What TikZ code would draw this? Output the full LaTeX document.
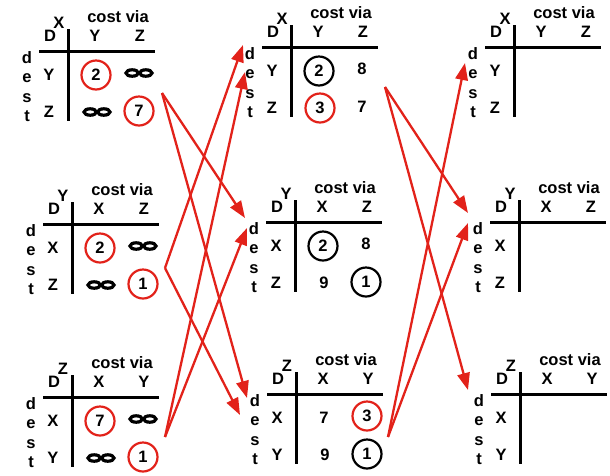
\documentclass[tikz,border=0pt]{standalone}
\usepackage{fontspec}
\setmainfont{Liberation Sans}
\usetikzlibrary{arrows.meta}
\definecolor{flowred}{RGB}{226,34,26}
\tikzset{
  lbl/.style={font=\fontsize{16.5}{18}\selectfont\bfseries, inner sep=0pt},
  rule/.style={line width=3pt},
  ring/.style={draw=#1, line width=2.2pt, circle, minimum size=29pt, inner sep=0pt,
    font=\fontsize{16.5}{18}\selectfont\bfseries},
  flow/.style={draw=flowred, line width=2.3pt, -{Triangle[length=17pt,width=12.5pt]}},
  pics/infty/.style={code={
    \draw[line width=3.2pt] (-6.8,0) ellipse[x radius=6.2pt, y radius=3.2pt]
                            (6.8,0) ellipse[x radius=6.2pt, y radius=3.2pt];}}
}
% distance table: #1 name, #2/#3 crossing of the rules, #4 owner,
% #5/#6 column heads, #7/#8 row heads
\newcommand\dvtable[8]{%
  \begin{scope}[shift={(#2,#3)}]
    \draw[rule] (-29,0) -- (87,0);
    \draw[rule] (0,-22) -- (0,70);
    \node[lbl] (#1-cv)  at (50,-34) {cost via};
    \node[lbl] (#1-d)   at (-18,-15) {D};
    \node[lbl] (#1-own) at (-9,-28) {#4};
    \node[lbl] (#1-c1)  at (27,-15) {#5};
    \node[lbl] (#1-c2)  at (72,-15) {#6};
    \node[lbl] (#1-r1)  at (-19,24) {#7};
    \node[lbl] (#1-r2)  at (-19,61) {#8};
    \node[lbl,anchor=base] (#1-l1) at (-41,12) {d};
    \node[lbl,anchor=base] (#1-l2) at (-41,31) {e};
    \node[lbl,anchor=base] (#1-l3) at (-41,51) {s};
    \node[lbl,anchor=base] (#1-l4) at (-41,70) {t};
    \coordinate (#1-11) at (28,24);
    \coordinate (#1-12) at (71,22);
    \coordinate (#1-21) at (29,61);
    \coordinate (#1-22) at (71,60);
  \end{scope}}
\begin{document}
\begin{tikzpicture}[x=1pt,y=-1pt]
  \useasboundingbox (0,0) rectangle (610,475);

  % first round: every node knows only its own links
  \dvtable{LX}{68}{51}{X}{Y}{Z}{Y}{Z}
  \dvtable{LY}{72}{224}{Y}{X}{Z}{X}{Z}
  \dvtable{LZ}{72}{397}{Z}{X}{Y}{X}{Y}
  % second round
  \dvtable{MX}{291}{47}{X}{Y}{Z}{Y}{Z}
  \dvtable{MY}{295}{222}{Y}{X}{Z}{X}{Z}
  \dvtable{MZ}{296}{394}{Z}{X}{Y}{X}{Y}
  % third round, still empty
  \dvtable{RX}{514}{47}{X}{Y}{Z}{Y}{Z}
  \dvtable{RY}{519}{222}{Y}{X}{Z}{X}{Z}
  \dvtable{RZ}{520}{394}{Z}{X}{Y}{X}{Y}

  % entries of the first round
  \node[ring=flowred] (LX-a) at (LX-11) {2};
  \pic at (LX-12) {infty};
  \pic at (LX-21) {infty};
  \node[ring=flowred] (LX-b) at (LX-22) {7};

  \node[ring=flowred] (LY-a) at (LY-11) {2};
  \pic at (LY-12) {infty};
  \pic at (LY-21) {infty};
  \node[ring=flowred] (LY-b) at (LY-22) {1};

  \node[ring=flowred] (LZ-a) at (LZ-11) {7};
  \pic at (LZ-12) {infty};
  \pic at (LZ-21) {infty};
  \node[ring=flowred] (LZ-b) at (LZ-22) {1};

  % entries of the second round
  \node[ring=black]   (MX-a) at (MX-11) {2};
  \node[lbl]          (MX-b) at (MX-12) {8};
  \node[ring=flowred] (MX-c) at (MX-21) {3};
  \node[lbl]          (MX-e) at (MX-22) {7};

  \node[ring=black]   (MY-a) at (MY-11) {2};
  \node[lbl]          (MY-b) at (MY-12) {8};
  \node[lbl]          (MY-c) at (MY-21) {9};
  \node[ring=black]   (MY-e) at (MY-22) {1};

  \node[lbl]          (MZ-a) at (MZ-11) {7};
  \node[ring=flowred] (MZ-b) at (MZ-12) {3};
  \node[lbl]          (MZ-c) at (MZ-21) {9};
  \node[ring=black]   (MZ-e) at (MZ-22) {1};

  % ends of the update messages
  \coordinate (LX-out) at (162,93);
  \coordinate (LY-out) at (165,268);
  \coordinate (LZ-out) at (165,437);
  \coordinate (MX-out) at (385,87);
  \coordinate (MZ-out) at (388,437);
  \coordinate (MX-in1) at (243,45);
  \coordinate (MX-in2) at (245,72);
  \coordinate (MY-in1) at (245,218);
  \coordinate (MY-in2) at (247,228);
  \coordinate (MZ-in1) at (247,398);
  \coordinate (MZ-in2) at (240,415);
  \coordinate (RX-in)  at (465,63);
  \coordinate (RY-in1) at (468,213);
  \coordinate (RY-in2) at (468,223);
  \coordinate (RZ-in)  at (468,390);

  \draw[flow] (LX-out) -- (MY-in1);
  \draw[flow] (LX-out) -- (MZ-in1);
  \draw[flow] (LY-out) -- (MX-in1);
  \draw[flow] (LY-out) -- (MZ-in2);
  \draw[flow] (LZ-out) -- (MX-in2);
  \draw[flow] (LZ-out) -- (MY-in2);
  \draw[flow] (MX-out) -- (RY-in1);
  \draw[flow] (MX-out) -- (RZ-in);
  \draw[flow] (MZ-out) -- (RX-in);
  \draw[flow] (MZ-out) -- (RY-in2);
\end{tikzpicture}
\end{document}
